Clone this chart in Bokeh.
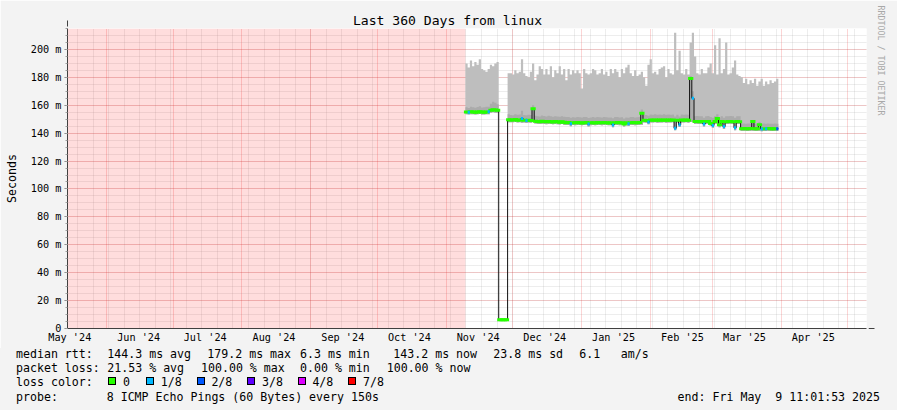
import numpy as np
import pandas as pd
from bokeh.plotting import figure
from bokeh.models import Range1d, FixedTicker, BoxAnnotation, Arrow, NormalHead, Title, Div
from bokeh.layouts import column
from bokeh.embed import file_html
from bokeh.resources import INLINE

# ---------------- data ----------------
END_TIME = "2025-05-09 11:01:53"
SPAN_DAYS = 360
DATA_START = "2024-11-09 18:00"

month_labels = ["May '24", "Jun '24", "Jul '24", "Aug '24", "Sep '24", "Oct '24",
                "Nov '24", "Dec '24", "Jan '25", "Feb '25", "Mar '25", "Apr '25"]
label_dates = ["2024-05-15 12:00", "2024-06-15 12:00", "2024-07-15 12:00", "2024-08-15 12:00",
               "2024-09-15 12:00", "2024-10-15 12:00", "2024-11-15 12:00", "2024-12-15 12:00",
               "2025-01-15 12:00", "2025-02-15 12:00", "2025-03-15 12:00", "2025-04-15 12:00"]
month_starts = ["2024-06-01", "2024-07-01", "2024-08-01", "2024-09-01", "2024-10-01",
                "2024-11-01", "2024-12-01", "2025-01-01", "2025-02-01", "2025-03-01",
                "2025-04-01", "2025-05-01"]

y_ticks = [0, 20, 40, 60, 80, 100, 120, 140, 160, 180, 200]
y_tick_labels = ["0", "20 m", "40 m", "60 m", "80 m", "100 m", "120 m", "140 m",
                 "160 m", "180 m", "200 m"]

nan = float("nan")
# daily median rtt (ms)
median_ms = [
    155.2, 155.0, 155.3, 155.1, 155.0, 155.2, 155.4, 155.1, 155.0, 155.2,
    155.3, 156.5, 156.8, 156.6, 156.4, 6.3, 6.3, 6.3, 6.3, 149.6,
    149.4, 149.5, 149.8, 149.3, 149.5, 150.5, 149.2, 149.0, 149.3, 149.1,
    157.5, 148.6, 148.4, 148.2, 148.5, 148.3, 148.1, 148.4, 148.2, 148.0,
    148.3, 148.1, 147.9, 148.2, 147.8, 147.5, 147.6, 146.8, 147.5, 147.4,
    147.6, 147.5, 147.3, 147.5, 147.6, 146.5, 147.4, 147.5, 147.3, 147.6,
    147.5, 147.4, 147.6, 147.5, 147.3, 147.4, 145.9, 147.5, 147.6, 147.4,
    147.5, 146.5, 147.4, 146.8, 147.5, 147.6, 147.4, 147.5, 147.6, 154.3,
    149.3, 149.1, 148.0, 149.4, 149.3, 149.5, 149.2, 149.4, 149.3, 149.5,
    149.2, 149.4, 149.3, 149.5, 143.5, 149.3, 146.0, 149.4, 149.3, 149.5,
    149.2, 179.2, 165.0, 148.3, 148.4, 148.2, 148.3, 146.5, 148.3, 148.4,
    147.0, 145.5, 148.3, 150.5, 146.0, 148.3, 144.7, 148.2, 148.3, 148.4,
    148.2, 143.8, 148.3, 148.2, 143.2, 143.3, 143.1, 143.2, 143.3, 148.3,
    143.2, 143.1, 146.0, 143.0, 143.2, 143.1, 143.3, 143.2, 143.1, 143.2,
    143.2]
# lowest ping of each day (ms)
smoke_low_ms = [
    153.5, 153.4, 153.6, 153.5, 153.3, 153.6, 153.7, 153.4, 153.3, 153.5,
    153.6, 154.6, 154.9, 154.7, 154.5, nan, nan, nan, nan, 147.9,
    147.8, 147.9, 148.0, 147.7, 147.8, 147.5, 147.6, 147.3, 147.6, 147.4,
    148.0, 146.9, 146.7, 146.5, 146.8, 146.6, 146.4, 146.7, 146.5, 146.3,
    146.6, 146.4, 146.2, 146.5, 146.1, 145.8, 145.9, 145.0, 145.8, 145.7,
    145.9, 145.8, 145.6, 145.8, 145.9, 144.8, 145.7, 145.8, 145.6, 145.9,
    145.8, 145.7, 145.9, 145.8, 145.6, 145.7, 144.2, 145.8, 145.9, 145.7,
    145.8, 144.8, 145.7, 145.1, 145.8, 145.9, 145.7, 145.8, 145.9, 146.0,
    147.6, 147.4, 146.3, 147.7, 147.6, 147.8, 147.5, 147.7, 147.6, 147.8,
    147.5, 147.7, 147.6, 147.8, 142.0, 147.6, 144.4, 147.7, 147.6, 147.8,
    147.5, 148.0, 148.0, 146.6, 146.7, 146.5, 146.6, 144.8, 146.6, 146.7,
    145.3, 143.8, 146.6, 146.8, 144.3, 146.6, 143.0, 146.5, 146.6, 146.7,
    146.5, 142.1, 146.6, 146.5, 141.6, 141.7, 141.5, 141.6, 141.7, 141.8,
    141.6, 141.5, 141.7, 141.4, 141.6, 141.5, 141.7, 141.6, 141.5, 141.6,
    141.6]
# upper edge of the dense (darker) part of the smoke (ms)
smoke_mid_ms = [
    158.5, 158.0, 159.0, 158.5, 158.2, 158.8, 159.2, 158.4, 158.6, 158.9,
    159.0, 161.0, 162.5, 161.8, 160.8, nan, nan, nan, nan, 153.5,
    153.0, 152.8, 153.6, 153.1, 153.4, 156.0, 153.0, 152.8, 153.2, 153.0,
    160.0, 152.5, 152.2, 152.0, 152.6, 152.3, 152.0, 152.4, 152.1, 151.8,
    152.2, 152.0, 151.8, 152.1, 151.7, 151.5, 151.6, 151.0, 151.4, 151.3,
    151.6, 151.4, 151.2, 151.5, 151.6, 150.8, 151.3, 151.5, 151.2, 151.6,
    151.4, 151.3, 151.5, 151.4, 151.2, 151.3, 150.6, 151.5, 151.6, 151.3,
    151.4, 150.5, 151.3, 151.0, 151.5, 151.6, 151.3, 151.4, 151.6, 157.0,
    153.2, 153.0, 152.5, 153.4, 153.2, 153.5, 153.1, 153.3, 153.2, 153.5,
    153.1, 153.3, 153.2, 153.4, 152.0, 153.2, 152.0, 153.3, 153.2, 153.4,
    153.1, 181.0, 170.0, 152.2, 152.3, 152.1, 152.2, 151.0, 152.2, 152.3,
    151.5, 151.0, 152.2, 153.5, 151.0, 152.2, 151.0, 152.1, 152.2, 152.3,
    152.1, 151.0, 152.2, 152.1, 146.8, 147.0, 146.7, 146.9, 147.0, 149.5,
    146.9, 146.7, 148.0, 146.6, 146.9, 146.7, 147.0, 146.8, 146.7, 146.9,
    146.8]
# highest ping of each day (ms)
smoke_high_ms = [
    190, 187, 192, 188, 191, 189, 193, 186, 185, 184,
    186, 189, 188, 190, 191, nan, nan, nan, nan, 183,
    183, 182, 185, 183, 184, 193, 183, 181, 180, 184,
    190, 178, 182, 188, 186, 182, 186, 182, 188, 180,
    185, 183, 188, 182, 186, 178, 186, 182, 185, 183,
    185, 183, 172, 186, 183, 182, 183, 186, 185, 182,
    183, 186, 182, 184, 181, 186, 183, 186, 184, 180,
    186, 183, 187, 189, 183, 181, 185, 181, 182, 184,
    180, 174, 189, 193, 183, 184, 182, 186, 187, 188,
    180, 186, 183, 182, 212, 185, 199, 183, 182, 186,
    182, 205, 212, 195, 183, 182, 186, 183, 183, 187,
    190, 183, 203, 182, 208, 183, 186, 205, 182, 183,
    187, 192, 182, 181, 180, 176, 179, 175, 178, 176,
    179, 174, 177, 179, 174, 177, 175, 178, 176, 177,
    179]
# lost pings out of 8 for each day
loss_count = [
    0, 1, 0, 0, 0, 0, 0, 0, 0, 0,
    1, 0, 0, 0, 0, 0, 0, 0, 0, 0,
    0, 0, 0, 0, 0, 1, 0, 1, 0, 0,
    0, 0, 0, 0, 0, 0, 0, 0, 0, 0,
    0, 0, 0, 0, 0, 0, 0, 1, 0, 0,
    0, 0, 0, 0, 0, 1, 0, 0, 0, 0,
    0, 0, 0, 0, 0, 0, 1, 0, 0, 0,
    0, 0, 0, 1, 0, 0, 0, 0, 0, 0,
    0, 0, 1, 0, 0, 0, 0, 0, 0, 0,
    0, 0, 0, 0, 1, 0, 1, 0, 0, 0,
    0, 0, 1, 0, 0, 0, 0, 1, 0, 0,
    0, 1, 0, 0, 0, 0, 1, 0, 0, 0,
    0, 1, 0, 0, 0, 0, 0, 0, 0, 0,
    0, 0, 0, 1, 0, 1, 0, 0, 0, 0,
    2]

loss_levels = [0, 1, 2, 3, 4, 7]
loss_names = ["0", "1/8", "2/8", "3/8", "4/8", "7/8"]
loss_colors = ["#26ff00", "#00b8ff", "#0059ff", "#5e00ff", "#dd00ff", "#ff0000"]

title_text = "Last 360 Days from linux"
watermark_text = "RRDTOOL / TOBI OETIKER"
stats_line1 = [("median rtt:", 16), ("144.3 ms avg", 107.3), ("179.2 ms max", 207.3),
               ("6.3 ms min", 300.0), ("143.2 ms now", 393.3), ("23.8 ms sd", 493.3),
               ("6.1", 579.3), ("am/s", 620.7)]
stats_line2 = [("packet loss:", 16), ("21.53 % avg", 107.3), ("100.00 % max", 201.0),
               ("0.00 % min", 300.0), ("100.00 % now", 386.7)]
stats_line3 = [("loss color:", 16)]
stats_line4 = [("probe:", 16), ("8 ICMP Echo Pings (60 Bytes) every 150s", 106.7)]
legend_box_x = [108.3, 146.0, 196.7, 247.3, 297.7, 348.3]
end_text = "end: Fri May  9 11:01:53 2025"

# ---------------- helpers ----------------
def ms(ts):
    return pd.Timestamp(ts).value / 1e6

DAY = 86400000.0
end_ms = ms(END_TIME)
start_ms = end_ms - SPAN_DAYS * DAY

n = len(median_ms)
day_start = [ms(DATA_START) + i * DAY for i in range(n)]
day_end = [t + DAY for t in day_start]


def valid_runs(vals):
    """indices of contiguous runs of non-NaN values"""
    runs, cur = [], None
    for i, v in enumerate(vals):
        if v != v:
            cur = None
            continue
        if cur is None:
            cur = []
            runs.append(cur)
        cur.append(i)
    return runs


# page geometry
FIG_W, FIG_H = 897, 348
FRAME_L, FRAME_T, FRAME_W, FRAME_H = 67, 28, 801, 300
MONO = "DejaVu Sans Mono"
BG = "#f3f3f3"

p = figure(width=FIG_W, height=FIG_H, output_backend="svg", toolbar_location=None,
           x_range=Range1d(start_ms, end_ms), y_range=Range1d(0, 215),
           min_border_left=FRAME_L, min_border_top=FRAME_T,
           min_border_right=FIG_W - FRAME_L - FRAME_W,
           min_border_bottom=FIG_H - FRAME_T - FRAME_H,
           background_fill_color="#ffffff", border_fill_color=BG,
           outline_line_color=None)

# unknown region (no data kept in the archive)
p.add_layout(BoxAnnotation(left=start_ms, right=day_start[0], fill_color="#ff0000",
                           fill_alpha=0.135, line_color=None, level="underlay"))

# smoke (light = full spread, dark = dense part)
for r in valid_runs(smoke_high_ms):
    xs = [t for i in r for t in (day_start[i], day_end[i])]
    lo = [smoke_low_ms[i] for i in r for _ in (0, 1)]
    hi = [smoke_high_ms[i] for i in r for _ in (0, 1)]
    md = [smoke_mid_ms[i] for i in r for _ in (0, 1)]
    p.varea(x=xs, y1=lo, y2=hi, fill_color="#bebebe")
    p.varea(x=xs, y1=lo, y2=md, fill_color="#ababab")

# median line (step)
mx = [t for i in range(n) for t in (day_start[i], day_end[i])]
my = [median_ms[i] for i in range(n) for _ in (0, 1)]
p.line(mx, my, line_color="#101010", line_width=1)

# median coloured by packet loss
for lvl, col in zip(loss_levels, loss_colors):
    idx = [i for i in range(n) if loss_count[i] == lvl]
    if not idx:
        continue
    p.segment(x0=[day_start[i] for i in idx], x1=[day_end[i] for i in idx],
              y0=[median_ms[i] for i in idx], y1=[median_ms[i] for i in idx],
              line_color=col, line_width=3, line_cap="square" if lvl == 0 else "butt")

# grids
p.xgrid.ticker = FixedTicker(ticks=[ms(d) for d in month_starts],
                             minor_ticks=[ms(d) for d in pd.date_range("2024-05-19", "2025-05-09", freq="7D")])
yticker = FixedTicker(ticks=y_ticks, minor_ticks=list(range(0, 216, 5)))
p.yaxis.ticker = yticker
p.ygrid.ticker = yticker
for g in (p.xgrid, p.ygrid):
    g.grid_line_color = "#f00000"
    g.grid_line_alpha = 0.33
    g.grid_line_dash = "1 1"
    g.minor_grid_line_color = "#8f8f8f"
    g.minor_grid_line_alpha = 0.32
    g.minor_grid_line_dash = "1 1"

# axes
label_ms = [ms(d) for d in label_dates]
p.xaxis.ticker = FixedTicker(ticks=label_ms)
p.xaxis.major_label_overrides = {t: l for t, l in zip(label_ms, month_labels)}
p.yaxis.major_label_overrides = {t: l for t, l in zip(y_ticks, y_tick_labels)}
for ax in (p.xaxis[0], p.yaxis[0]):
    ax.axis_line_color = "#404040"
    ax.major_label_text_font = MONO
    ax.major_label_text_font_size = "10.2px"
    ax.major_label_text_color = "#000000"
p.xaxis.major_tick_in = 0
p.xaxis.major_tick_out = 0
p.xaxis.minor_tick_out = 0
p.xaxis.minor_tick_in = 0
p.xaxis.major_label_standoff = 3
p.yaxis.major_tick_in = 0
p.yaxis.major_tick_out = 3
p.yaxis.minor_tick_in = 0
p.yaxis.minor_tick_out = 2
p.yaxis.major_tick_line_color = "#808080"
p.yaxis.minor_tick_line_color = "#a0a0a0"
p.yaxis.major_label_standoff = 3
p.yaxis.axis_label = "Seconds"
p.yaxis.axis_label_text_font = MONO
p.yaxis.axis_label_text_font_size = "11.6px"
p.yaxis.axis_label_text_font_style = "normal"
p.yaxis.axis_label_text_color = "#000000"
p.yaxis.axis_label_standoff = 9

# axis arrows
p.add_layout(Arrow(end=NormalHead(size=6, fill_color="#8b1a1a", line_color="#8b1a1a"),
                   x_start=0, y_start=FRAME_H, x_end=0, y_end=FRAME_H + 8,
                   start_units="screen", end_units="screen", line_color="#404040"))
p.add_layout(Arrow(end=NormalHead(size=6, fill_color="#8b1a1a", line_color="#8b1a1a"),
                   x_start=FRAME_W, y_start=0, x_end=FRAME_W + 6, y_end=0,
                   start_units="screen", end_units="screen", line_color="#404040"))

# title
p.title.text = title_text
p.title.align = "left"
p.title.offset = 285.4
p.title.standoff = 2
p.title.text_font = MONO
p.title.text_font_size = "13.1px"
p.title.text_font_style = "normal"
p.title.text_color = "#000000"

# watermark on the right
p.add_layout(Title(text=watermark_text, align="left", offset=-23, standoff=19,
                   text_font=MONO, text_font_size="8.3px", text_font_style="normal",
                   text_color="#a8a8a8"), "right")

# ---------------- statistics block under the graph ----------------
DIV_H = 410 - FIG_H
LINE_H = 14


def span(txt, x, cy, extra=""):
    return ('<span style="position:absolute;left:%.1fpx;top:%.1fpx;line-height:%dpx;'
            'white-space:pre;%s">%s</span>' % (x, cy - FIG_H - LINE_H / 2, LINE_H, extra, txt))


parts = []
for line, cy in ((stats_line1, 354.0), (stats_line2, 368.3), (stats_line3, 381.7), (stats_line4, 396.5)):
    for txt, x in line:
        parts.append(span(txt, x, cy))
for bx, name, col in zip(legend_box_x, loss_names, loss_colors):
    parts.append('<span style="position:absolute;left:%.1fpx;top:%.1fpx;width:8px;height:8px;'
                 'box-sizing:border-box;border:1px solid #000;background:%s"></span>'
                 % (bx, 377.4 - FIG_H, col))
    parts.append(span(name, bx + 14.7, 381.7))
parts.append('<span style="position:absolute;right:%.1fpx;top:%.1fpx;line-height:%dpx;'
             'white-space:pre">%s</span>' % (897 - 880, 396.5 - FIG_H - LINE_H / 2, LINE_H, end_text))

html = ('<div style="position:relative;width:897px;height:%dpx;background:%s;'
        'font-family:\'DejaVu Sans Mono\';font-size:11.6px;color:#000;overflow:hidden">%s</div>'
        % (DIV_H, BG, "".join(parts)))
stats = Div(text=html, width=897, height=DIV_H, margin=0)

layout = column(p, stats, spacing=0)
open("out.html", "w").write(file_html(layout, INLINE))
